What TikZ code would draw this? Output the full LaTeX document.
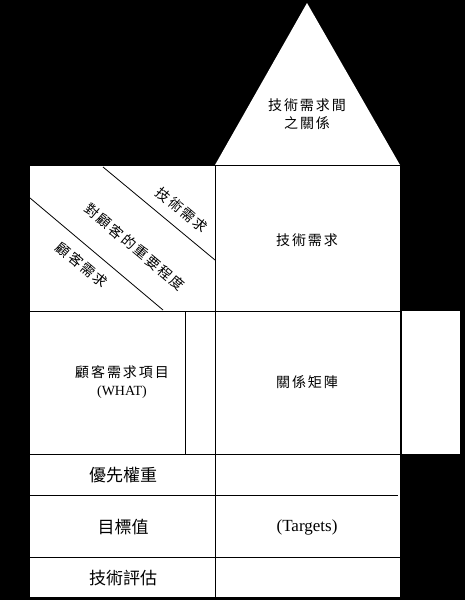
\documentclass[tikz,border=0pt]{standalone}
\usepackage{fontspec}
\setmainfont{Liberation Serif}
\newfontfamily\cjk[LetterSpace=14]{Noto Sans CJK TC}
\newfontfamily\cjkb{Noto Sans CJK TC}
\begin{document}
\begin{tikzpicture}[x=1pt,y=-1pt,
  ln/.style={draw=black,line width=0.8pt},
  lbl/.style={inner sep=0pt,font=\cjk\fontsize{14}{18}\selectfont,align=center},
  lblb/.style={inner sep=0pt,font=\cjkb\fontsize{17}{20}\selectfont,align=center},
  diag/.style={lbl,rotate=-40}]
\useasboundingbox[fill=black] (0,0) rectangle (465,600);
% roof
\fill[white] (215,165) -- (307,3) -- (400,165) -- cycle;
% main body
\fill[white] (30,165) rectangle (400,597);
\fill[white] (402,311) rectangle (460,454);
\draw[ln] (30,165) -- (400,165);
\draw[ln] (215,165) -- (215,597);
\draw[ln] (30,311) -- (400,311);
\draw[ln] (30,454) -- (400,454);
\draw[ln] (30,495) -- (398,495);
\draw[ln] (30,557) -- (400,557);
\draw[ln] (185,311) -- (185,454);
\draw[ln] (30,198) -- (163,310);
\draw[ln] (103,167) -- (215,260);
% labels
\node[lbl] (roof) at (307,114) {技術需求間\\之關係};
\node[lbl] (how) at (307,240) {技術需求};
\node[diag] (d1) at (182,210) {技術需求};
\node[diag] (d2) at (135,247) {對顧客的重要程度};
\node[diag] (d3) at (82,265) {顧客需求};
\node[lbl] (what) at (122,382) {顧客需求項目\\{\rmfamily\fontsize{14}{18}\selectfont (WHAT)}};
\node[lbl] (rel) at (307,382) {關係矩陣};
\node[lblb] (pri) at (123,475) {優先權重};
\node[lblb] (tgt) at (123,527) {目標值};
\node[inner sep=0pt,font=\fontsize{17}{20}\selectfont] (tgtv) at (307,527) {(Targets)};
\node[lblb] (eval) at (123,578) {技術評估};
\end{tikzpicture}
\end{document}
